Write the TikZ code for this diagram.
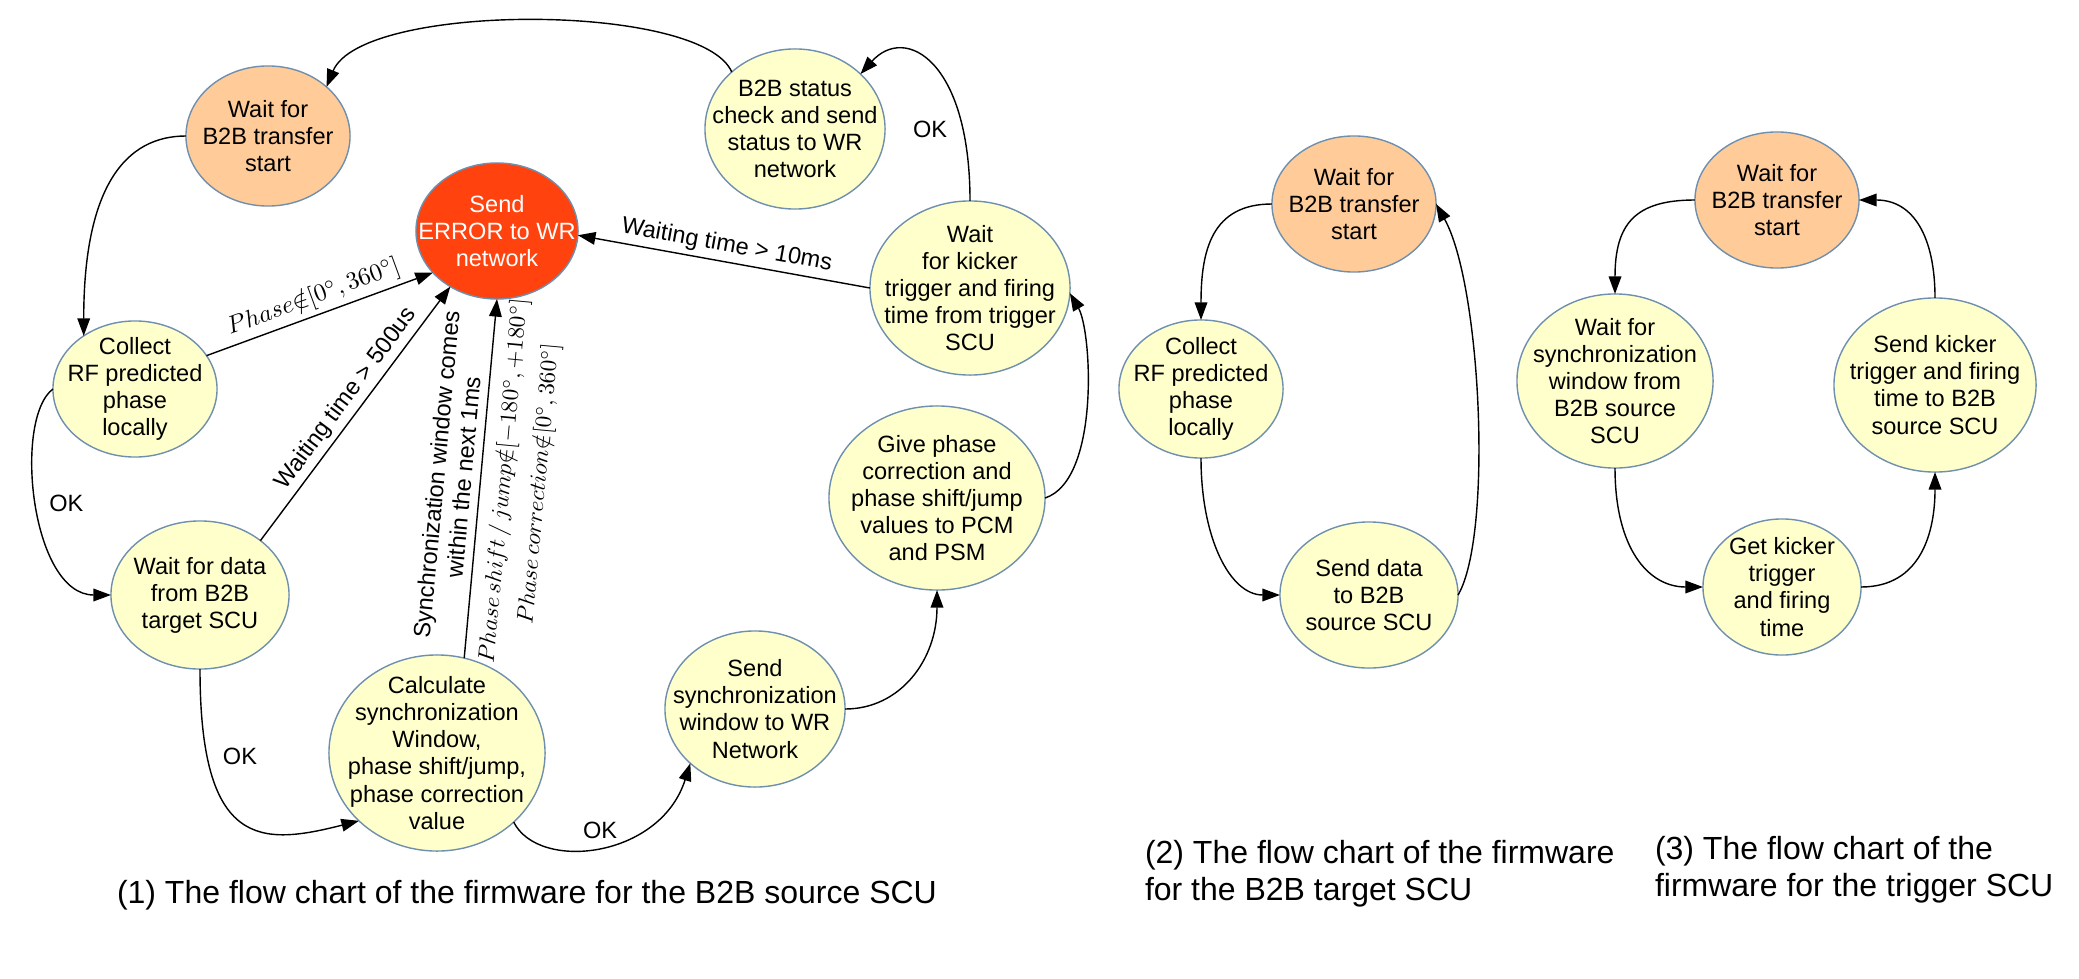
\documentclass[tikz,border=0pt]{standalone}
\usepackage[no-math]{fontspec}
\usepackage{graphicx}
\setmainfont{Liberation Sans}
\usetikzlibrary{shapes.geometric,arrows.meta}

\definecolor{stateyellow}{HTML}{FFFFCC}
\definecolor{startorange}{HTML}{FFCC99}
\definecolor{errorred}{HTML}{FF420E}
\definecolor{stateline}{HTML}{6F8FAE}
\newcommand\statefont{\fontsize{6.7}{7.7}\selectfont}
\newcommand\mathlblfont{\fontsize{6.7}{10}\selectfont}
\newcommand\capfont{\fontsize{9.1}{10.25}\selectfont}
% math set at 10pt, then shrunk
\newcommand\eqlbl[2]{\scalebox{#1}{\fontsize{10}{12}\selectfont$#2$}}

\begin{document}
\begin{tikzpicture}[x=0.01cm,y=-0.01cm,inner sep=0pt,outer sep=0pt,line width=0.4pt,
state/.style={draw=stateline,ellipse,fill=stateyellow},
startstate/.style={state,fill=startorange},
errorstate/.style={state,fill=errorred},
dims/.style 2 args={minimum width=#1cm,minimum height=#2cm},
every label/.style={align=center,font=\statefont},
trans/.style={-{Triangle[length=5pt,width=3.6pt]}},
lbl/.style={inner sep=1.5pt,align=center,font=\statefont},
mathlbl/.style={lbl,font=\mathlblfont},
caption/.style={align=left,font=\capfont}]
\useasboundingbox (0,0) rectangle (2079,979);

% (1) B2B source SCU
\draw (268,136) node[startstate,dims={1.64}{1.40},label={center:{Wait for\\B2B transfer\\start}}] (wait1) {};
\draw (795,129) node[state,dims={1.80}{1.60},label={center:{B2B status\\check and send\\status to WR\\network}}] (status1) {};
\draw (970,288) node[state,dims={2.00}{1.74},label={center:{Wait\\for kicker\\trigger and firing\\time from trigger\\SCU}}] (kick1) {};
\draw (497,231) node[errorstate,dims={1.62}{1.36},label={[text=white]center:{Send\\ERROR to WR\\network}}] (err1) {};
\draw (135,389) node[state,dims={1.64}{1.36},label={center:{Collect\\RF predicted\\phase\\locally}}] (coll1) {};
\draw (200,595) node[state,dims={1.78}{1.48},label={center:{Wait for data\\from B2B\\target SCU}}] (data1) {};
\draw (437,753) node[state,dims={2.16}{1.96},label={center:{Calculate\\synchronization\\Window,\\phase shift/jump,\\phase correction\\value}}] (calc1) {};
\draw (755,709) node[state,dims={1.80}{1.56},label={center:{Send\\synchronization\\window to WR\\Network}}] (sync1) {};
\draw (937,498) node[state,dims={2.16}{1.84},label={center:{Give phase\\correction and\\phase shift/jump\\values to PCM\\and PSM}}] (give1) {};

\draw[trans] (wait1.west) .. controls +(-60,0) and +(0,-150) .. (coll1.134);
\draw[trans] (status1.138) .. controls +(-30,-70) and +(35,-85) .. (wait1.40);
\draw[trans] (kick1.north) .. controls +(0,-140) and +(45,-50) .. (status1.40) node[pos=0.2,left=3pt,lbl] {OK};
\draw[trans] (kick1.west) -- (err1.-3) node[midway,above,sloped,lbl] {Waiting time > 10ms};
\draw[trans] (coll1.25) -- (err1.213) node[midway,above,sloped,mathlbl] {\eqlbl{0.7}{Phase{\notin}[0^{\circ},360^{\circ}]}};
\draw[trans] (coll1.west) .. controls +(-40,30) and +(-80,0) .. (data1.west) node[midway,right=2pt,lbl] {OK};
\draw[trans] (data1.42) -- (err1.230) node[pos=0.52,above,sloped,lbl] {Waiting time > 500us};
\draw[trans] (data1.south) .. controls +(0,180) and +(-98,25) .. (calc1.221) node[pos=0.2,right=3pt,lbl] {OK};
\draw[trans] (calc1.74) -- (err1.south)
  node[midway,above=1pt,sloped,lbl] {Synchronization window comes\\within the next 1ms}
  node[pos=0.5,below=2pt,sloped,mathlbl] {\eqlbl{0.66}{Phase\,shift\,/\,jump{\notin}[-180^{\circ},+180^{\circ}]}\\\eqlbl{0.66}{Phase\,correction{\notin}[0^{\circ},360^{\circ}]}};
\draw[trans] (calc1.-42) .. controls +(25,50) and +(-30,95) .. (sync1.220) node[midway,above=1pt,lbl] {OK};
\draw[trans] (sync1.east) .. controls +(55,0) and +(0,70) .. (give1.south);
\draw[trans] (give1.east) .. controls +(55,-18) and +(22,38) .. (kick1.-3);

% (2) B2B target SCU
\draw (1354,204) node[startstate,dims={1.64}{1.36},label={center:{Wait for\\B2B transfer\\start}}] (wait2) {};
\draw (1201,389) node[state,dims={1.64}{1.38},label={center:{Collect\\RF predicted\\phase\\locally}}] (coll2) {};
\draw (1369,595) node[state,dims={1.78}{1.46},label={center:{Send data\\to B2B\\source SCU}}] (send2) {};

\draw[trans] (wait2.west) .. controls +(-60,0) and +(0,-70) .. (coll2.north);
\draw[trans] (coll2.south) .. controls +(0,80) and +(-50,0) .. (send2.west);
\draw[trans] (send2.east) .. controls +(35,-60) and +(45,80) .. (wait2.east);

% (3) trigger SCU
\draw (1777,200) node[startstate,dims={1.64}{1.36},label={center:{Wait for\\B2B transfer\\start}}] (wait3) {};
\draw (1615,381) node[state,dims={1.96}{1.74},label={center:{Wait for\\synchronization\\window from\\B2B source\\SCU}}] (sync3) {};
\draw (1782,587) node[state,dims={1.58}{1.36},label={center:{Get kicker\\trigger\\and firing\\time}}] (kick3) {};
\draw (1935,385) node[state,dims={2.02}{1.74},label={center:{Send kicker\\trigger and firing\\time to B2B\\source SCU}}] (send3) {};

\draw[trans] (wait3.west) .. controls +(-60,0) and +(0,-70) .. (sync3.north);
\draw[trans] (sync3.south) .. controls +(0,80) and +(-55,0) .. (kick3.west);
\draw[trans] (kick3.east) .. controls +(60,0) and +(0,60) .. (send3.south);
\draw[trans] (send3.north) .. controls +(0,-60) and +(55,0) .. (wait3.east);

% captions
\draw (117,903) node[caption,anchor=base west] (cap1) {(1) The flow chart of the firmware for the B2B source SCU};
\draw (1145,900) node[caption,anchor=base west] (cap2) {(2) The flow chart of the firmware\\for the B2B target SCU};
\draw (1655,896) node[caption,anchor=base west] (cap3) {(3) The flow chart of the\\firmware for the trigger SCU};
\end{tikzpicture}
\end{document}
